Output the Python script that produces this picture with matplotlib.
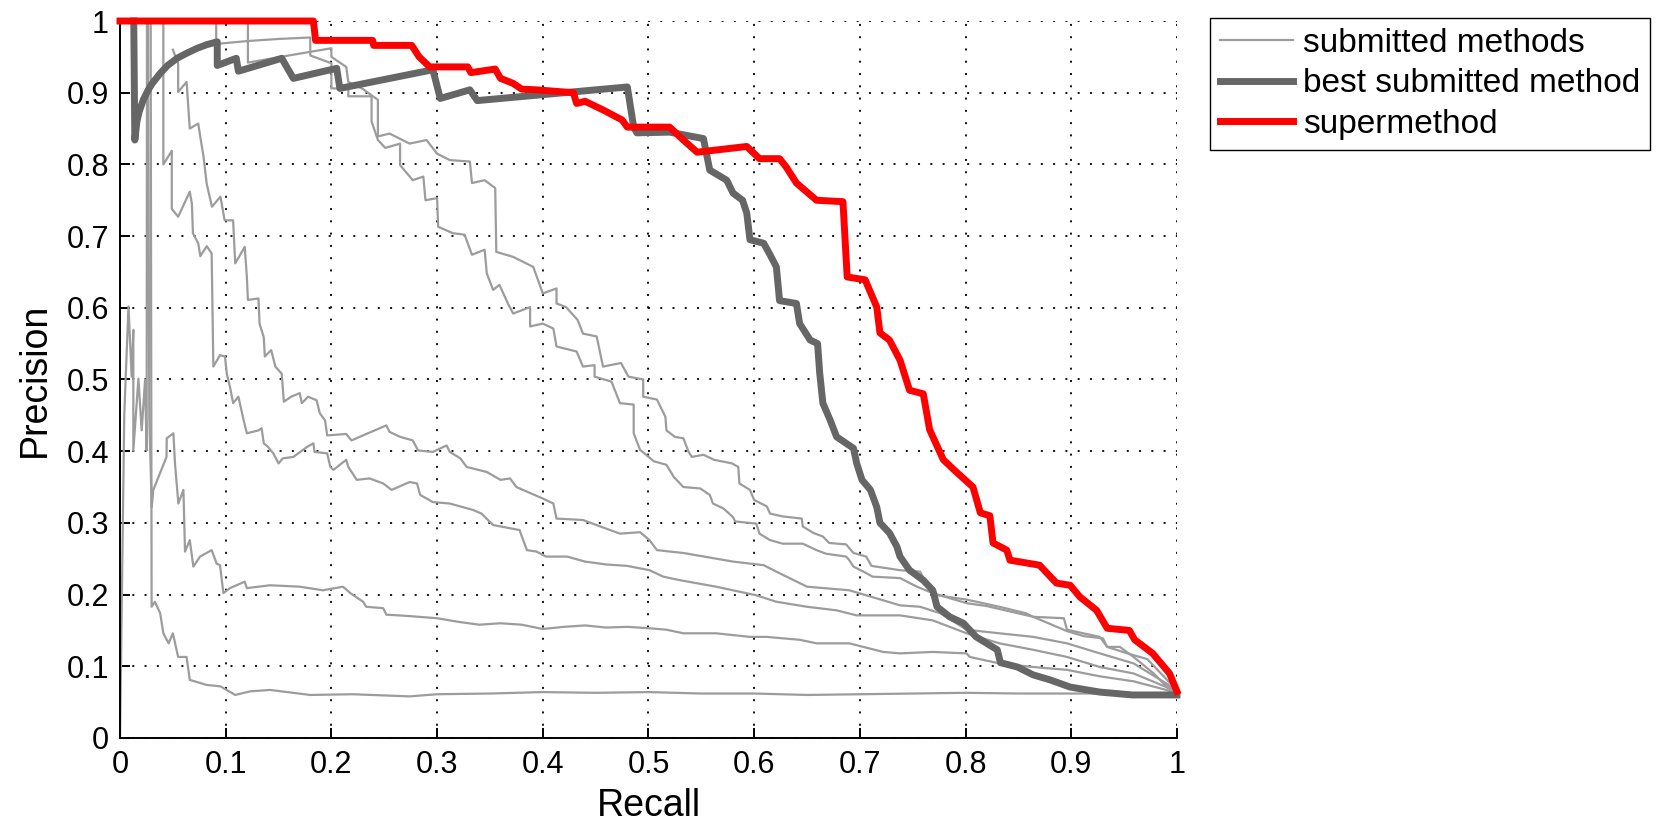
import matplotlib.pyplot as plt
from matplotlib.lines import Line2D

plt.rcParams['font.family'] = ['Liberation Sans', 'DejaVu Sans']

# precision/recall curves as (recall, precision) points
sub_1 = [(0.121, 1.0), (0.121, 0.942), (0.16, 0.952), (0.2, 0.962), (0.2, 0.95), (0.214, 0.936),
         (0.216, 0.915), (0.23, 0.905), (0.244, 0.89), (0.244, 0.839), (0.255, 0.843), (0.274, 0.829),
         (0.29, 0.834), (0.3, 0.815), (0.312, 0.806), (0.331, 0.804), (0.333, 0.774), (0.345, 0.778),
         (0.355, 0.767), (0.356, 0.678), (0.372, 0.671), (0.391, 0.657), (0.4, 0.62), (0.413, 0.627),
         (0.413, 0.606), (0.422, 0.601), (0.433, 0.583), (0.438, 0.564), (0.451, 0.56), (0.457, 0.518),
         (0.474, 0.523), (0.481, 0.504), (0.495, 0.5), (0.495, 0.476), (0.508, 0.472), (0.516, 0.448),
         (0.517, 0.429), (0.525, 0.42), (0.533, 0.418), (0.538, 0.399), (0.541, 0.392), (0.552, 0.395),
         (0.562, 0.388), (0.579, 0.383), (0.585, 0.378), (0.586, 0.355), (0.596, 0.346), (0.6, 0.332),
         (0.612, 0.323), (0.615, 0.313), (0.627, 0.309), (0.645, 0.306), (0.646, 0.295), (0.656, 0.286),
         (0.665, 0.281), (0.671, 0.272), (0.687, 0.27), (0.694, 0.258), (0.706, 0.253), (0.711, 0.24),
         (0.738, 0.234), (0.757, 0.232), (0.769, 0.2), (0.801, 0.193), (0.832, 0.183), (0.857, 0.174),
         (0.864, 0.169), (0.893, 0.167), (0.896, 0.151), (0.927, 0.141), (0.934, 0.127), (0.946, 0.127),
         (0.959, 0.113), (0.978, 0.09), (0.99, 0.072), (1.0, 0.063)]

sub_2 = [(0.091, 1.0), (0.091, 0.968), (0.12, 0.972), (0.15, 0.975), (0.18, 0.977), (0.18, 0.952),
         (0.2, 0.941), (0.2, 0.906), (0.216, 0.906), (0.216, 0.895), (0.238, 0.895), (0.238, 0.86),
         (0.244, 0.834), (0.251, 0.823), (0.265, 0.829), (0.265, 0.799), (0.277, 0.778), (0.287, 0.783),
         (0.289, 0.75), (0.3, 0.753), (0.301, 0.713), (0.315, 0.704), (0.326, 0.702), (0.333, 0.674),
         (0.345, 0.681), (0.347, 0.648), (0.353, 0.625), (0.359, 0.632), (0.367, 0.606), (0.372, 0.592),
         (0.388, 0.601), (0.388, 0.574), (0.4, 0.578), (0.41, 0.571), (0.413, 0.546), (0.432, 0.539),
         (0.438, 0.518), (0.449, 0.52), (0.449, 0.504), (0.465, 0.497), (0.473, 0.467), (0.486, 0.465),
         (0.486, 0.425), (0.492, 0.402), (0.505, 0.386), (0.517, 0.381), (0.524, 0.364), (0.533, 0.35),
         (0.549, 0.348), (0.558, 0.339), (0.561, 0.327), (0.571, 0.32), (0.58, 0.308), (0.582, 0.302),
         (0.602, 0.299), (0.605, 0.285), (0.615, 0.276), (0.627, 0.271), (0.646, 0.271), (0.659, 0.262),
         (0.668, 0.257), (0.687, 0.253), (0.69, 0.248), (0.694, 0.239), (0.706, 0.23), (0.712, 0.225),
         (0.738, 0.223), (0.754, 0.211), (0.769, 0.202), (0.801, 0.188), (0.82, 0.184), (0.864, 0.169),
         (0.896, 0.149), (0.912, 0.142), (0.93, 0.139), (0.934, 0.127), (0.953, 0.118), (0.972, 0.11),
         (0.99, 0.082), (1.0, 0.065)]

sub_3 = [(0.05, 0.96), (0.055, 0.941), (0.055, 0.901), (0.063, 0.915), (0.0646, 0.88), (0.066, 0.85),
         (0.074, 0.857), (0.076, 0.838), (0.079, 0.811), (0.082, 0.773), (0.087, 0.741), (0.095, 0.755),
         (0.099, 0.722), (0.107, 0.722), (0.109, 0.662), (0.118, 0.685), (0.12, 0.643), (0.121, 0.611),
         (0.131, 0.613), (0.132, 0.578), (0.136, 0.559), (0.137, 0.532), (0.143, 0.541), (0.147, 0.518),
         (0.153, 0.508), (0.155, 0.469), (0.162, 0.476), (0.17, 0.481), (0.172, 0.467), (0.178, 0.476),
         (0.186, 0.471), (0.189, 0.453), (0.194, 0.443), (0.196, 0.422), (0.214, 0.424), (0.219, 0.415),
         (0.233, 0.424), (0.252, 0.436), (0.255, 0.427), (0.265, 0.42), (0.277, 0.415), (0.282, 0.401),
         (0.296, 0.399), (0.309, 0.408), (0.312, 0.399), (0.322, 0.39), (0.328, 0.378), (0.347, 0.371),
         (0.36, 0.36), (0.369, 0.362), (0.375, 0.35), (0.4, 0.334), (0.41, 0.327), (0.413, 0.306),
         (0.438, 0.304), (0.46, 0.292), (0.473, 0.285), (0.492, 0.287), (0.501, 0.276), (0.508, 0.262),
         (0.533, 0.258), (0.58, 0.246), (0.609, 0.241), (0.621, 0.232), (0.65, 0.211), (0.69, 0.206),
         (0.722, 0.192), (0.738, 0.185), (0.757, 0.183), (0.776, 0.174), (0.801, 0.151), (0.832, 0.146),
         (0.864, 0.141), (0.896, 0.132), (0.927, 0.118), (0.959, 0.104), (0.99, 0.076), (1.0, 0.064)]

sub_4 = [(0.041, 1.0), (0.041, 0.8), (0.049, 0.819), (0.049, 0.738), (0.055, 0.727), (0.066, 0.762),
         (0.068, 0.745), (0.069, 0.704), (0.074, 0.69), (0.076, 0.672), (0.082, 0.686), (0.0867, 0.676),
         (0.0883, 0.518), (0.0946, 0.534), (0.0993, 0.532), (0.101, 0.508), (0.104, 0.49), (0.107, 0.467),
         (0.112, 0.476), (0.117, 0.443), (0.12, 0.425), (0.131, 0.429), (0.134, 0.432), (0.136, 0.411),
         (0.14, 0.406), (0.145, 0.397), (0.15, 0.383), (0.154, 0.39), (0.164, 0.392), (0.177, 0.406),
         (0.183, 0.411), (0.184, 0.399), (0.196, 0.397), (0.199, 0.378), (0.202, 0.374), (0.214, 0.388),
         (0.216, 0.378), (0.224, 0.36), (0.236, 0.362), (0.249, 0.355), (0.257, 0.346), (0.274, 0.357),
         (0.281, 0.355), (0.284, 0.339), (0.296, 0.329), (0.312, 0.327), (0.334, 0.318), (0.342, 0.313),
         (0.353, 0.297), (0.378, 0.29), (0.385, 0.262), (0.394, 0.26), (0.403, 0.253), (0.423, 0.253),
         (0.44, 0.246), (0.46, 0.242), (0.48, 0.24), (0.501, 0.234), (0.514, 0.225), (0.53, 0.22),
         (0.564, 0.211), (0.602, 0.199), (0.621, 0.19), (0.65, 0.183), (0.678, 0.178), (0.697, 0.171),
         (0.738, 0.171), (0.769, 0.164), (0.801, 0.146), (0.832, 0.132), (0.864, 0.123), (0.896, 0.113),
         (0.927, 0.099), (0.959, 0.09), (0.99, 0.071), (1.0, 0.062)]

sub_5 = [(0.0, 0.0), (0.004, 0.45), (0.008, 0.602), (0.011, 0.504), (0.0126, 0.569), (0.0126, 0.401),
         (0.0174, 0.501), (0.0205, 0.429), (0.0237, 0.499), (0.0252, 0.401), (0.0255, 1.0), (0.0265, 1.0),
         (0.0277, 0.448), (0.03, 0.322), (0.0315, 0.346), (0.044, 0.392), (0.0442, 0.418), (0.0505, 0.425),
         (0.052, 0.383), (0.0552, 0.327), (0.06, 0.346), (0.0615, 0.26), (0.066, 0.276), (0.0694, 0.239),
         (0.0757, 0.253), (0.0867, 0.262), (0.0915, 0.243), (0.0946, 0.241), (0.0978, 0.202), (0.104, 0.209),
         (0.118, 0.218), (0.12, 0.209), (0.142, 0.213), (0.17, 0.211), (0.192, 0.206), (0.211, 0.211),
         (0.218, 0.202), (0.23, 0.19), (0.233, 0.183), (0.249, 0.181), (0.252, 0.172), (0.274, 0.17),
         (0.3, 0.167), (0.32, 0.162), (0.34, 0.158), (0.36, 0.16), (0.38, 0.158), (0.4, 0.152),
         (0.42, 0.155), (0.44, 0.157), (0.46, 0.154), (0.48, 0.155), (0.501, 0.153), (0.517, 0.151),
         (0.533, 0.146), (0.564, 0.146), (0.596, 0.141), (0.612, 0.141), (0.627, 0.139), (0.643, 0.137),
         (0.659, 0.132), (0.69, 0.132), (0.722, 0.12), (0.738, 0.118), (0.769, 0.12), (0.801, 0.118),
         (0.804, 0.113), (0.832, 0.104), (0.864, 0.099), (0.896, 0.095), (0.927, 0.086), (0.959, 0.079),
         (0.99, 0.067), (1.0, 0.062)]

sub_6 = [(0.029, 1.0), (0.0299, 0.183), (0.033, 0.19), (0.038, 0.174), (0.041, 0.146), (0.046, 0.132),
         (0.05, 0.146), (0.055, 0.113), (0.063, 0.113), (0.066, 0.081), (0.082, 0.074), (0.095, 0.072),
         (0.109, 0.06), (0.123, 0.065), (0.142, 0.067), (0.18, 0.06), (0.22, 0.061), (0.274, 0.058),
         (0.3, 0.061), (0.35, 0.062), (0.4, 0.064), (0.45, 0.063), (0.5, 0.064), (0.55, 0.062),
         (0.6, 0.062), (0.65, 0.06), (0.7, 0.061), (0.75, 0.062), (0.8, 0.063), (0.85, 0.062),
         (0.9, 0.062), (0.95, 0.062), (1.0, 0.062)]

best_pr = [(0.013, 1.0), (0.014, 0.834), (0.016, 0.86), (0.018, 0.873), (0.022, 0.89), (0.026, 0.902),
           (0.03, 0.912), (0.038, 0.927), (0.045, 0.938), (0.054, 0.948), (0.063, 0.955), (0.073, 0.962),
           (0.082, 0.967), (0.092, 0.971), (0.092, 0.938), (0.11, 0.948), (0.112, 0.93), (0.153, 0.948),
           (0.164, 0.92), (0.205, 0.934), (0.208, 0.906), (0.296, 0.932), (0.303, 0.892), (0.331, 0.904),
           (0.338, 0.889), (0.48, 0.908), (0.486, 0.852), (0.489, 0.844), (0.52, 0.845), (0.552, 0.836),
           (0.558, 0.792), (0.574, 0.778), (0.58, 0.76), (0.589, 0.75), (0.593, 0.732), (0.596, 0.695),
           (0.609, 0.69), (0.615, 0.674), (0.621, 0.657), (0.624, 0.61), (0.64, 0.606), (0.643, 0.578),
           (0.653, 0.555), (0.66, 0.55), (0.662, 0.509), (0.665, 0.467), (0.672, 0.443), (0.678, 0.42),
           (0.694, 0.404), (0.697, 0.383), (0.702, 0.36), (0.71, 0.346), (0.716, 0.322), (0.719, 0.3),
           (0.728, 0.286), (0.735, 0.267), (0.738, 0.253), (0.747, 0.234), (0.76, 0.22), (0.769, 0.206),
           (0.773, 0.183), (0.785, 0.169), (0.798, 0.16), (0.81, 0.141), (0.83, 0.123), (0.833, 0.105),
           (0.849, 0.099), (0.864, 0.088), (0.88, 0.081), (0.899, 0.071), (0.927, 0.064), (0.958, 0.06),
           (1.0, 0.06)]

super_pr = [(0.0, 1.0), (0.183, 1.0), (0.185, 0.973), (0.239, 0.973), (0.24, 0.966), (0.276, 0.966),
            (0.283, 0.95), (0.293, 0.936), (0.329, 0.936), (0.332, 0.928), (0.355, 0.933), (0.36, 0.92),
            (0.372, 0.913), (0.38, 0.905), (0.394, 0.904), (0.429, 0.9), (0.432, 0.885), (0.44, 0.888),
            (0.457, 0.876), (0.475, 0.862), (0.48, 0.852), (0.52, 0.852), (0.533, 0.834), (0.546, 0.817),
            (0.593, 0.825), (0.605, 0.808), (0.624, 0.808), (0.63, 0.797), (0.64, 0.774), (0.659, 0.75),
            (0.684, 0.748), (0.688, 0.643), (0.705, 0.639), (0.716, 0.601), (0.719, 0.565), (0.728, 0.555),
            (0.738, 0.527), (0.747, 0.485), (0.76, 0.48), (0.766, 0.43), (0.779, 0.388), (0.792, 0.37),
            (0.807, 0.35), (0.814, 0.314), (0.823, 0.31), (0.826, 0.272), (0.839, 0.262), (0.842, 0.248),
            (0.87, 0.241), (0.886, 0.216), (0.899, 0.213), (0.908, 0.197), (0.924, 0.178), (0.934, 0.153),
            (0.955, 0.15), (0.96, 0.137), (0.977, 0.118), (0.993, 0.09), (1.0, 0.065)]

submitted = [sub_1, sub_2, sub_3, sub_4, sub_5, sub_6]
tick_vals = [i / 10 for i in range(11)]

fig = plt.figure(figsize=(16.6, 8.24), dpi=100)
ax = fig.add_axes([0.0723, 0.1044, 0.6367, 0.8701])

for curve in submitted:
    r, p = zip(*curve)
    ax.plot(r, p, color='#9c9c9c', lw=1.6, zorder=2, clip_on=False)

r, p = zip(*best_pr)
ax.plot(r, p, color='#666666', lw=5, zorder=3, clip_on=False)
r, p = zip(*super_pr)
ax.plot(r, p, color='#ff0000', lw=5, zorder=4, clip_on=False)

ax.set_xlim(0, 1)
ax.set_ylim(0, 1)
ax.set_xticks(tick_vals)
ax.set_yticks(tick_vals)
ax.set_xticklabels(['%g' % v for v in tick_vals])
ax.set_yticklabels(['%g' % v for v in tick_vals])
ax.tick_params(direction='in', length=7, width=1.4, labelsize=22, pad=9)
ax.tick_params(axis='y', pad=8)

for side in ['top', 'right']:
    ax.spines[side].set_visible(False)
for side in ['left', 'bottom']:
    ax.spines[side].set_linewidth(1.4)

# MATLAB-like sparse dotted grid
ax.grid(True, color='black', lw=1.3, linestyle=(0, (1.1, 5.7)), zorder=1)
ax.set_axisbelow(True)

ax.set_xlabel('Recall', fontsize=27, labelpad=5.5)
ax.set_ylabel('Precision', fontsize=27, labelpad=9.5)

handles = [Line2D([], [], color='#9c9c9c', lw=1.6),
           Line2D([], [], color='#666666', lw=5),
           Line2D([], [], color='#ff0000', lw=5)]
labels = ['submitted methods', 'best submitted method', 'supermethod']
leg = ax.legend(handles, labels, loc='upper left', bbox_to_anchor=(1.031, 1.004),
                borderaxespad=0, fontsize=24, fancybox=False, framealpha=1,
                edgecolor='black', handlelength=2.2, handletextpad=0.3,
                labelspacing=0.28, borderpad=0.3)
leg.get_frame().set_linewidth(1.0)

fig.savefig('out.png', dpi=100)
